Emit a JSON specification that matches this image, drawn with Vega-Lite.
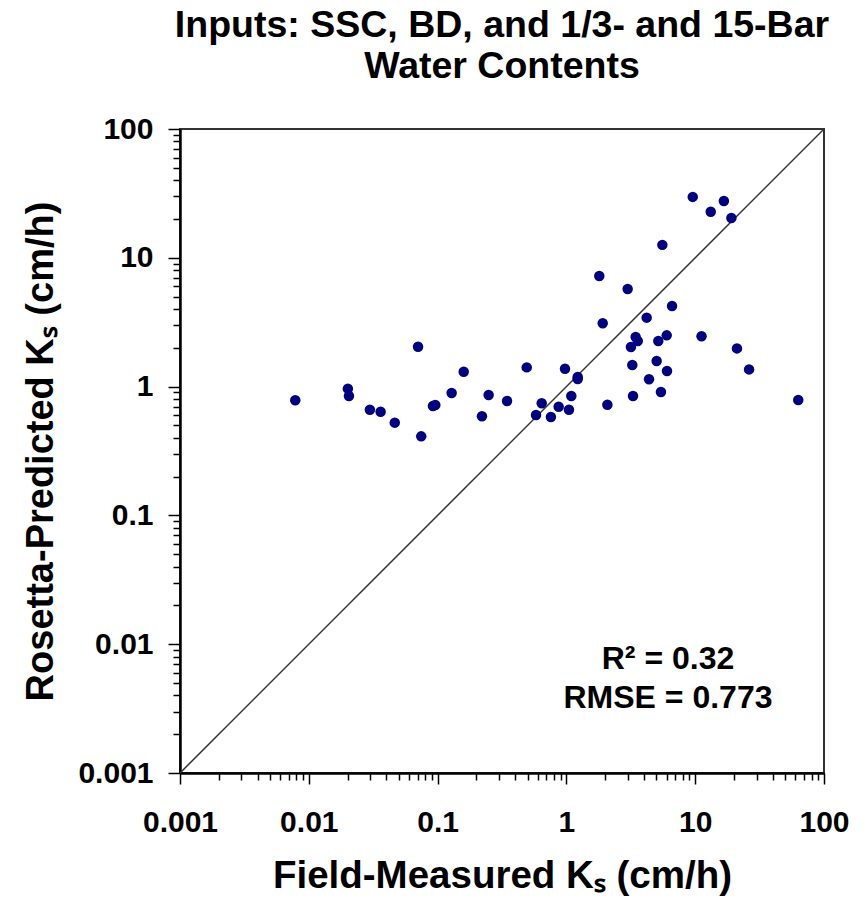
{
  "$schema": "https://vega.github.io/schema/vega-lite/v6.json",
  "width": 644,
  "height": 644,
  "autosize": {"type": "none"},
  "padding": {"left": 180, "top": 129, "right": 42, "bottom": 126},
  "background": "white",
  "title": {
    "text": ["Inputs: SSC, BD, and 1/3- and 15-Bar", "Water Contents"],
    "font": "Liberation Sans",
    "fontSize": 37.5,
    "fontWeight": "bold",
    "color": "black",
    "lineHeight": 41,
    "anchor": "middle",
    "offset": 29
  },
  "config": {
    "view": {"stroke": "#333333", "strokeWidth": 2},
    "font": "Liberation Sans"
  },
  "datasets": {
    "points": [
      {"measured": 0.00785, "predicted": 0.783},
      {"measured": 0.0201, "predicted": 0.964},
      {"measured": 0.0205, "predicted": 0.845},
      {"measured": 0.0298, "predicted": 0.662},
      {"measured": 0.0361, "predicted": 0.638},
      {"measured": 0.0465, "predicted": 0.525},
      {"measured": 0.0705, "predicted": 2.04},
      {"measured": 0.0746, "predicted": 0.411},
      {"measured": 0.092, "predicted": 0.707},
      {"measured": 0.096, "predicted": 0.72},
      {"measured": 0.1285, "predicted": 0.892},
      {"measured": 0.1595, "predicted": 1.305},
      {"measured": 0.221, "predicted": 0.588},
      {"measured": 0.249, "predicted": 0.861},
      {"measured": 0.346, "predicted": 0.773},
      {"measured": 0.492, "predicted": 1.41},
      {"measured": 0.581, "predicted": 0.602},
      {"measured": 0.643, "predicted": 0.742},
      {"measured": 0.758, "predicted": 0.581},
      {"measured": 0.871, "predicted": 0.698},
      {"measured": 0.975, "predicted": 1.377},
      {"measured": 1.047, "predicted": 0.662},
      {"measured": 1.092, "predicted": 0.845},
      {"measured": 1.224, "predicted": 1.188},
      {"measured": 1.224, "predicted": 1.146},
      {"measured": 1.8, "predicted": 7.22},
      {"measured": 1.914, "predicted": 3.1},
      {"measured": 2.08, "predicted": 0.723},
      {"measured": 2.99, "predicted": 5.72},
      {"measured": 3.17, "predicted": 2.03},
      {"measured": 3.25, "predicted": 1.47},
      {"measured": 3.29, "predicted": 0.845},
      {"measured": 3.45, "predicted": 2.43},
      {"measured": 3.58, "predicted": 2.26},
      {"measured": 4.2, "predicted": 3.43},
      {"measured": 4.38, "predicted": 1.14},
      {"measured": 5.02, "predicted": 1.58},
      {"measured": 5.17, "predicted": 2.26},
      {"measured": 5.42, "predicted": 0.908},
      {"measured": 5.56, "predicted": 12.6},
      {"measured": 6.01, "predicted": 2.5},
      {"measured": 6.04, "predicted": 1.32},
      {"measured": 6.61, "predicted": 4.22},
      {"measured": 9.57, "predicted": 29.7},
      {"measured": 11.2, "predicted": 2.46},
      {"measured": 13.2, "predicted": 22.8},
      {"measured": 16.7, "predicted": 27.6},
      {"measured": 19.1, "predicted": 20.4},
      {"measured": 21.1, "predicted": 1.98},
      {"measured": 26.2, "predicted": 1.36},
      {"measured": 63.1, "predicted": 0.787}
    ],
    "oneToOne": [
      {"measured": 0.001, "predicted": 0.001},
      {"measured": 100, "predicted": 100}
    ],
    "stats": [
      {"measured": 6.15, "predicted": 0.00765, "label": "R² = 0.32"},
      {"measured": 6.15, "predicted": 0.00385, "label": "RMSE = 0.773"}
    ]
  },
  "encoding": {
    "x": {
      "field": "measured",
      "type": "quantitative",
      "scale": {"type": "log", "domain": [0.001, 100], "nice": false},
      "axis": {
        "title": "Field-Measured Kₛ (cm/h)",
        "titleFont": "Liberation Sans",
        "titleFontSize": 38.5,
        "titleFontWeight": "bold",
        "titleColor": "black",
        "titlePadding": 20,
        "values": [0.001,0.002,0.003,0.004,0.005,0.006,0.007,0.008,0.009,0.01,0.02,0.03,0.04,0.05,0.06,0.07,0.08,0.09,0.1,0.2,0.3,0.4,0.5,0.6,0.7,0.8,0.9,1,2,3,4,5,6,7,8,9,10,20,30,40,50,60,70,80,90,100],
        "format": "~g",
        "labelExpr": "indexof([0.001,0.01,0.1,1,10,100], datum.value) >= 0 ? datum.label : ''",
        "labelFont": "Liberation Sans",
        "labelFontSize": 30,
        "labelFontWeight": "bold",
        "labelColor": "black",
        "labelPadding": 23,
        "labelFlush": false,
        "labelOverlap": false,
        "labelBound": false,
        "grid": false,
        "domainColor": "black",
        "domainWidth": 2.5,
        "tickColor": "black",
        "tickWidth": 1.5,
        "tickSize": {"condition": {"test": "indexof([0.001,0.01,0.1,1,10,100], datum.value) >= 0", "value": 11}, "value": 7}
      }
    },
    "y": {
      "field": "predicted",
      "type": "quantitative",
      "scale": {"type": "log", "domain": [0.001, 100], "nice": false},
      "axis": {
        "title": "Rosetta-Predicted Kₛ (cm/h)",
        "titleFont": "Liberation Sans",
        "titleFontSize": 38,
        "titleFontWeight": "bold",
        "titleColor": "black",
        "titlePadding": 17,
        "values": [0.001,0.002,0.003,0.004,0.005,0.006,0.007,0.008,0.009,0.01,0.02,0.03,0.04,0.05,0.06,0.07,0.08,0.09,0.1,0.2,0.3,0.4,0.5,0.6,0.7,0.8,0.9,1,2,3,4,5,6,7,8,9,10,20,30,40,50,60,70,80,90,100],
        "format": "~g",
        "labelExpr": "indexof([0.001,0.01,0.1,1,10,100], datum.value) >= 0 ? datum.label : ''",
        "labelFont": "Liberation Sans",
        "labelFontSize": 30,
        "labelFontWeight": "bold",
        "labelColor": "black",
        "labelPadding": 15,
        "labelOverlap": false,
        "labelBound": false,
        "labelFlush": false,
        "grid": false,
        "domainColor": "black",
        "domainWidth": 2.5,
        "tickColor": "black",
        "tickWidth": 1.5,
        "tickSize": {"condition": {"test": "indexof([0.001,0.01,0.1,1,10,100], datum.value) >= 0", "value": 12}, "value": 7}
      }
    }
  },
  "layer": [
    {
      "data": {"name": "oneToOne"},
      "mark": {"type": "line", "color": "#333333", "strokeWidth": 1.5}
    },
    {
      "data": {"name": "points"},
      "mark": {"type": "circle", "color": "#000080", "opacity": 1, "size": 110}
    },
    {
      "data": {"name": "stats"},
      "mark": {"type": "text", "font": "Liberation Sans", "fontSize": 32, "fontWeight": "bold", "color": "black", "align": "center", "baseline": "middle"},
      "encoding": {"text": {"field": "label", "type": "nominal"}}
    }
  ]
}
